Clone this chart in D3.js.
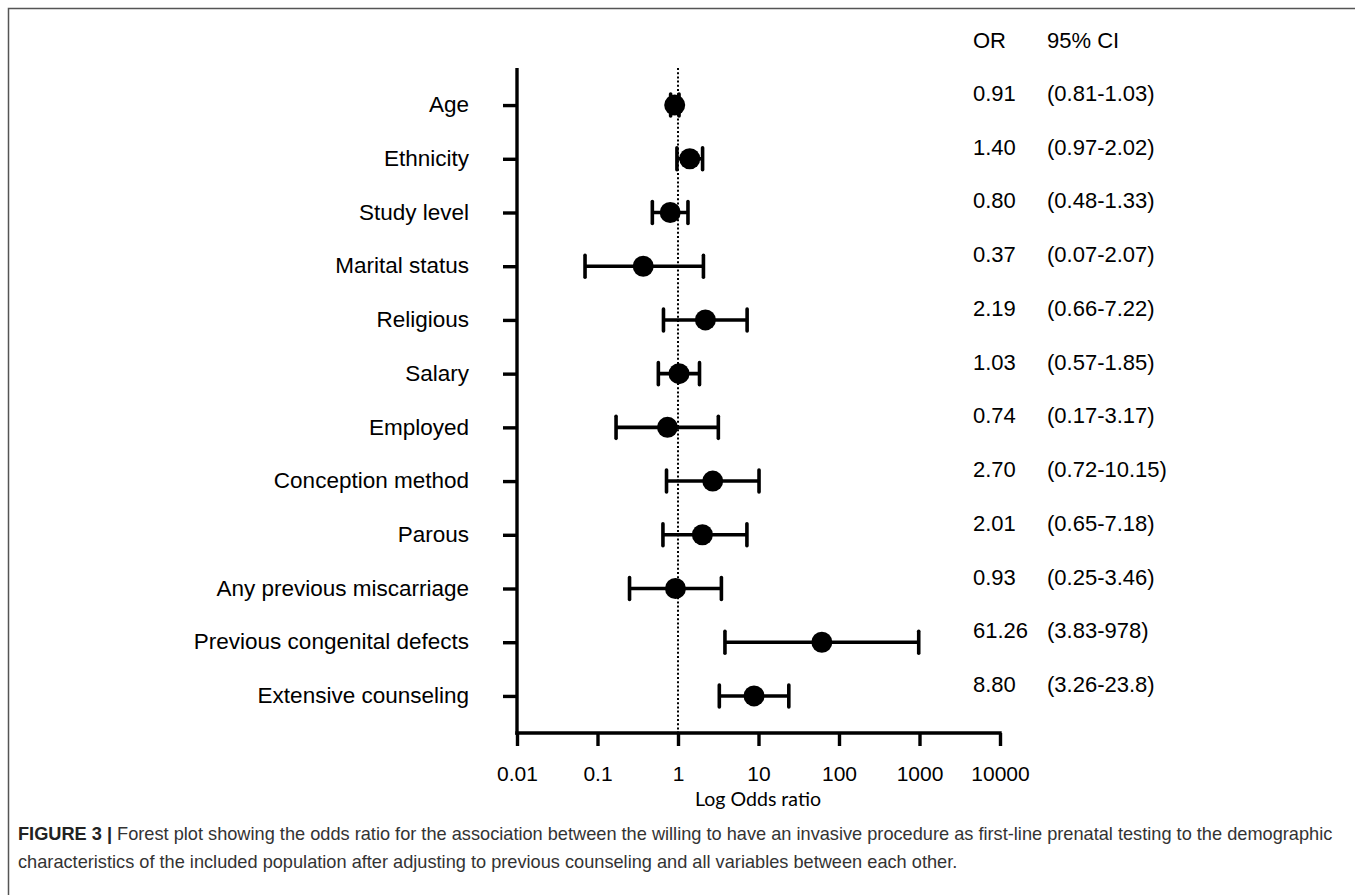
<!DOCTYPE html>
<html><head><meta charset="utf-8">
<script src="https://cdn.jsdelivr.net/npm/d3@7"></script>
<style>body{margin:0;background:#fff}svg{display:block}</style>
</head><body>
<script>
const categories = ["Age","Ethnicity","Study level","Marital status","Religious","Salary","Employed","Conception method","Parous","Any previous miscarriage","Previous congenital defects","Extensive counseling"];
const orValues = [0.91,1.40,0.80,0.37,2.19,1.03,0.74,2.70,2.01,0.93,61.26,8.80];
const ciLow = [0.81,0.97,0.48,0.07,0.66,0.57,0.17,0.72,0.65,0.25,3.83,3.26];
const ciHigh = [1.03,2.02,1.33,2.07,7.22,1.85,3.17,10.15,7.18,3.46,978,23.8];
const orLabels = ["0.91","1.40","0.80","0.37","2.19","1.03","0.74","2.70","2.01","0.93","61.26","8.80"];
const ciLabels = ["(0.81-1.03)","(0.97-2.02)","(0.48-1.33)","(0.07-2.07)","(0.66-7.22)","(0.57-1.85)","(0.17-3.17)","(0.72-10.15)","(0.65-7.18)","(0.25-3.46)","(3.83-978)","(3.26-23.8)"];
const xTicks = [0.01,0.1,1,10,100,1000,10000];
const xTickLabels = ["0.01","0.1","1","10","100","1000","10000"];

const W=1355,H=895;
const svg=d3.select("body").append("svg").attr("width",W).attr("height",H);
// frame
svg.append("path").attr("d","M8.5,895 L8.5,8.5 L1355,8.5").attr("fill","none").attr("stroke","#555").attr("stroke-width",1.5);

const x=d3.scaleLog().domain([0.01,10000]).range([517,1000]);
const y=d3.scalePoint().domain(categories).range([68,733]).padding(0.69);
const axisY=733;
const font="'Liberation Sans', Arial, sans-serif";

// y axis
const gy=svg.append("g").attr("transform","translate(517,0)")
 .call(d3.axisLeft(y).tickSize(14).tickPadding(34).tickSizeOuter(0));
gy.select(".domain").attr("stroke","#000").attr("stroke-width",3.4).attr("d","M0,68V"+(axisY+1.7));
gy.selectAll(".tick line").attr("stroke","#000").attr("stroke-width",3.4);
gy.selectAll(".tick text").attr("font-family",font).attr("font-size",22.5).attr("fill","#000").attr("dy","0.3em");

// x axis
const gx=svg.append("g").attr("transform","translate(0,"+axisY+")")
 .call(d3.axisBottom(x).tickValues(xTicks).tickFormat((d,i)=>xTickLabels[i]).tickSize(13).tickPadding(20).tickSizeOuter(0));
gx.select(".domain").attr("stroke","#000").attr("stroke-width",3.4).attr("d","M"+(517-1.7)+",0H"+(1000+1.7));
gx.selectAll(".tick line").attr("stroke","#000").attr("stroke-width",3.4);
gx.selectAll(".tick text").attr("font-family",font).attr("font-size",21).attr("fill","#000");

svg.append("text").attr("x",758).attr("y",806).attr("text-anchor","middle")
 .attr("font-family","Lato, 'Open Sans', sans-serif").attr("font-size",18.5).attr("fill","#000")
 .attr("textLength",126).attr("lengthAdjust","spacingAndGlyphs").text("Log Odds ratio");

// reference line
svg.append("line").attr("x1",x(1)).attr("x2",x(1)).attr("y1",68).attr("y2",axisY)
 .attr("stroke","#000").attr("stroke-width",2).attr("stroke-dasharray","2,2.2");

// error bars
const g=svg.append("g");
categories.forEach((c,i)=>{
  const yy=y(c);
  g.append("line").attr("x1",x(ciLow[i])).attr("x2",x(ciHigh[i])).attr("y1",yy).attr("y2",yy).attr("stroke","#000").attr("stroke-width",3.6);
  [ciLow[i],ciHigh[i]].forEach(v=>g.append("line").attr("x1",x(v)).attr("x2",x(v)).attr("y1",yy-11).attr("y2",yy+11).attr("stroke","#000").attr("stroke-width",3.6).attr("stroke-linecap","round"));
  g.append("circle").attr("cx",x(orValues[i])).attr("cy",yy).attr("r",10.5).attr("fill","#000");
});

// OR / CI columns
svg.append("text").attr("x",973).attr("y",48).attr("font-family",font).attr("font-size",22).text("OR");
svg.append("text").attr("x",1047).attr("y",48).attr("font-family",font).attr("font-size",22).text("95% CI");
categories.forEach((c,i)=>{
  svg.append("text").attr("x",973).attr("y",y(c)-4).attr("font-family",font).attr("font-size",22).text(orLabels[i]);
  svg.append("text").attr("x",1047).attr("y",y(c)-4).attr("font-family",font).attr("font-size",22).text(ciLabels[i]);
});

// caption
const capFont="'Liberation Sans Narrow', 'Liberation Sans', sans-serif";
const t1=svg.append("text").attr("x",18).attr("y",840).attr("font-family",capFont).attr("font-size",18.2).attr("fill","#333");
t1.append("tspan").attr("font-weight","bold").attr("fill","#222").text("FIGURE 3 | ");
t1.append("tspan").text("Forest plot showing the odds ratio for the association between the willing to have an invasive procedure as first-line prenatal testing to the demographic");
svg.append("text").attr("x",18).attr("y",868).attr("font-family",capFont).attr("font-size",18.2).attr("fill","#333")
 .text("characteristics of the included population after adjusting to previous counseling and all variables between each other.");
</script>
</body></html>
